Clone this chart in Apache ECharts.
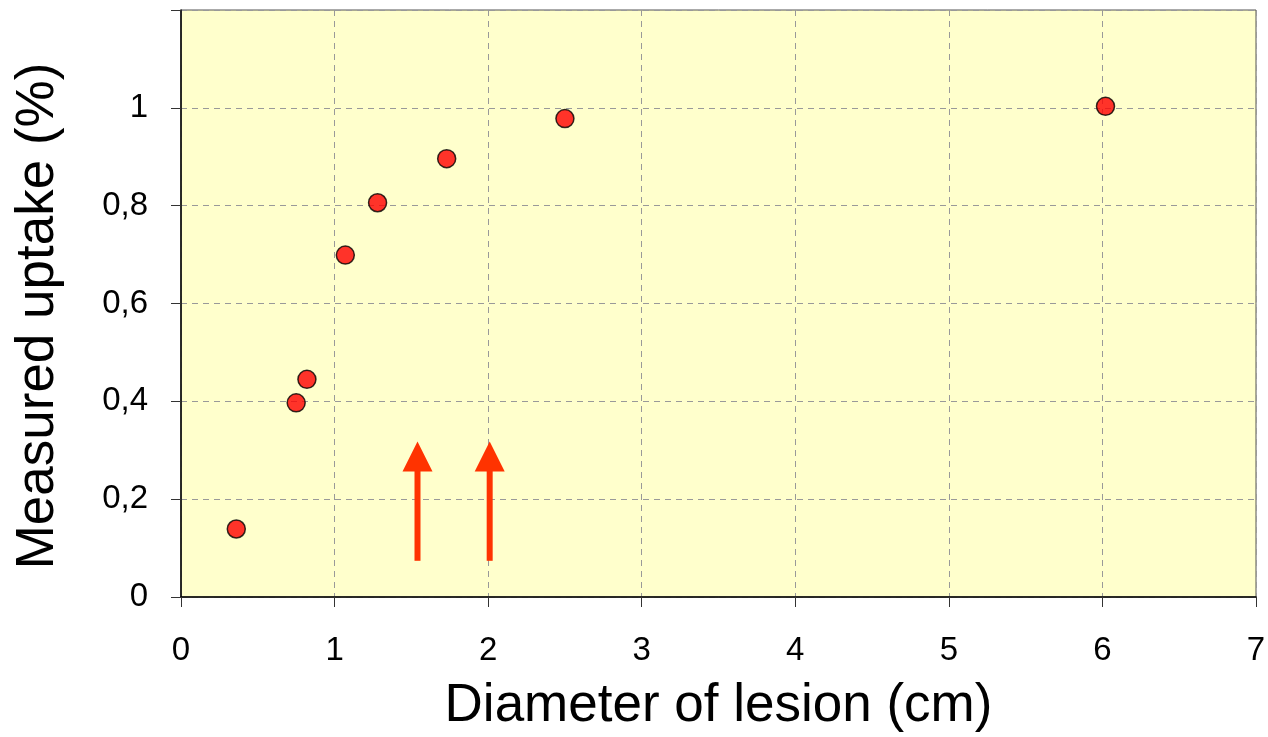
<!DOCTYPE html>
<html>
<head>
<meta charset="utf-8">
<script src="https://cdn.jsdelivr.net/npm/echarts@6/dist/echarts.min.js"></script>
<style>
html,body{margin:0;padding:0;background:#fff;}
#main{width:1268px;height:737px;}
</style>
</head>
<body>
<div id="main"></div>
<script>
const diameters = [0.36, 0.75, 0.82, 1.07, 1.28, 1.73, 2.50, 6.02];
const uptakes = [0.139, 0.397, 0.445, 0.699, 0.806, 0.896, 0.978, 1.003];
const arrowX = [1.54, 2.01];
const arrowFrom = [0.074, 0.074];
const arrowTo = [0.318, 0.318];
const xTitle = 'Diameter of lesion (cm)';
const yTitle = 'Measured uptake (%)';

const FONT = '"Liberation Sans", Arial, sans-serif';
const chart = echarts.init(document.getElementById('main'));

const points = diameters.map((d, i) => [d, uptakes[i]]);
const arrows = arrowX.map((x, i) => [x, arrowFrom[i], arrowTo[i]]);

chart.setOption({
  animation: false,
  backgroundColor: '#ffffff',
  grid: {
    left: 181, top: 10, right: 12, bottom: 140,
    outerBoundsMode: 'none', containLabel: false,
    show: true, backgroundColor: '#FFFFCC', borderColor: '#555', borderWidth: 1
  },
  xAxis: {
    type: 'value', min: 0, max: 7, interval: 1,
    name: xTitle, nameLocation: 'middle', nameGap: 83,
    nameTextStyle: { fontFamily: FONT, fontSize: 53, color: '#000' },
    axisLine: { show: true, onZero: false, lineStyle: { color: '#000', width: 1.5 } },
    axisTick: { show: true, length: 10, lineStyle: { color: '#333' } },
    axisLabel: { fontFamily: FONT, fontSize: 33, color: '#000', margin: 37 },
    splitLine: { show: true, lineStyle: { color: '#999', type: [6, 5], width: 1 } }
  },
  yAxis: {
    type: 'value', min: 0, max: 1.2, interval: 0.2,
    axisLine: { show: true, onZero: false, lineStyle: { color: '#000', width: 1.5 } },
    axisTick: { show: true, length: 10, lineStyle: { color: '#333' } },
    axisLabel: {
      fontFamily: FONT, fontSize: 33, color: '#000', margin: 33,
      formatter: v => v > 1.1 ? '' : String(+v.toFixed(1)).replace('.', ',')
    },
    splitLine: { show: true, lineStyle: { color: '#999', type: [6, 5], width: 1 } }
  },
  graphic: [{
    type: 'text', x: 38, y: 316, rotation: Math.PI / 2,
    style: {
      text: yTitle, fontFamily: FONT, fontSize: 53, fill: '#000',
      align: 'center', verticalAlign: 'middle'
    }
  }],
  series: [
    {
      type: 'custom',
      data: arrows,
      z: 3,
      renderItem: function (params, api) {
        const b = api.coord([api.value(0), api.value(1)]);
        const t = api.coord([api.value(0), api.value(2)]);
        const headH = 30, headW = 15, shaftW = 3;
        return {
          type: 'group',
          children: [
            { type: 'rect', shape: { x: b[0] - shaftW, y: t[1] + headH - 1, width: shaftW * 2, height: b[1] - t[1] - headH + 1 },
              style: { fill: '#FF3300' } },
            { type: 'polygon', shape: { points: [[t[0], t[1]], [t[0] - headW, t[1] + headH], [t[0] + headW, t[1] + headH]] },
              style: { fill: '#FF3300' } }
          ]
        };
      }
    },
    {
      type: 'scatter',
      data: points,
      symbol: 'circle',
      symbolSize: 18,
      z: 5,
      itemStyle: { color: '#FF0000', borderColor: '#000', borderWidth: 1.5 }
    }
  ]
});
</script>
</body>
</html>
